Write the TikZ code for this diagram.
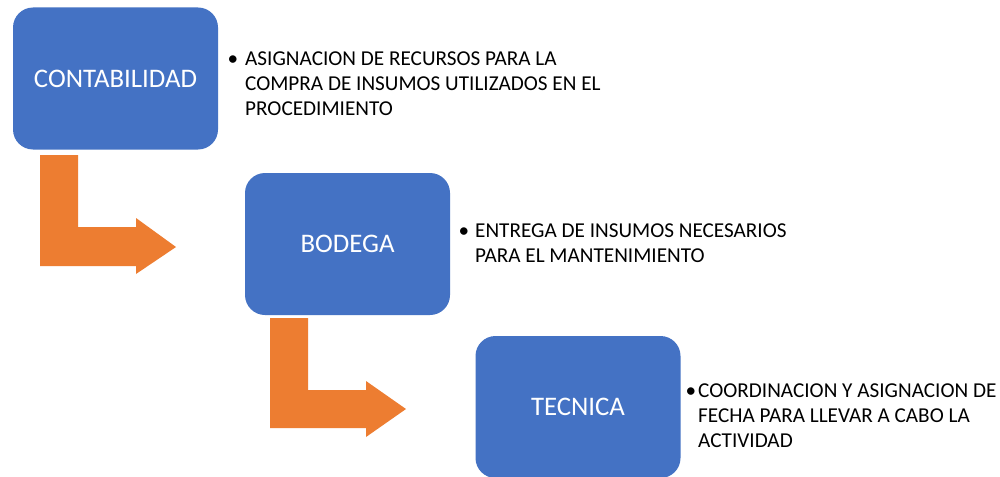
\documentclass[tikz,border=0pt]{standalone}
\usepackage{fontspec}
\setmainfont{Carlito}
\definecolor{boxblue}{HTML}{4472C4}
\definecolor{arroworange}{HTML}{ED7D31}
\tikzset{
  stagebox/.style={fill=boxblue, draw=none, rounded corners=20pt, minimum width=205pt, minimum height=142pt, inner sep=0pt, text=white, font=\fontsize{26.8}{32}\selectfont},
  note/.style={anchor=base west, inner sep=0pt, align=left, text=black, font=\fontsize{21.2}{25}\selectfont},
  dot/.style={anchor=base, inner sep=0pt, text=black, font=\fontsize{21.2}{25}\selectfont},
  bentarrow/.style={fill=arroworange, draw=none}
}
\begin{document}
\begin{tikzpicture}[x=1pt,y=-1pt]
\clip (0,0) rectangle (1000,476);
\fill[white] (0,0) rectangle (1000,476);
% boxes
\node[stagebox] (conta) at (115.5,78.5) {CONTABILIDAD};
\node[stagebox] (bodega) at (347.5,244) {BODEGA};
\node[stagebox] (tecnica) at (578,407) {TECNICA};
% bent arrows
\fill[bentarrow] (40,155) -- (78,155) -- (78,227) -- (136,227) -- (136,218) -- (176,247) -- (136,274) -- (136,266) -- (40,266) -- cycle;
\fill[bentarrow] (270,318) -- (308,318) -- (308,390) -- (366,390) -- (366,381) -- (406,409) -- (366,437) -- (366,428) -- (270,428) -- cycle;
% notes (base anchor = baseline of the last line)
\node[dot] (d1) at (233,66) {•};
\node[note] (n1) at (245,116) {ASIGNACION DE RECURSOS PARA LA\\COMPRA DE INSUMOS UTILIZADOS EN EL\\PROCEDIMIENTO};
\node[dot] (d2) at (464,237) {•};
\node[note] (n2) at (475,262) {ENTREGA DE INSUMOS NECESARIOS\\PARA EL MANTENIMIENTO};
\node[dot] (d3) at (691,397) {•};
\node[note] (n3) at (698,447) {COORDINACION Y ASIGNACION DE\\FECHA PARA LLEVAR A CABO LA\\ACTIVIDAD};
\end{tikzpicture}
\end{document}
